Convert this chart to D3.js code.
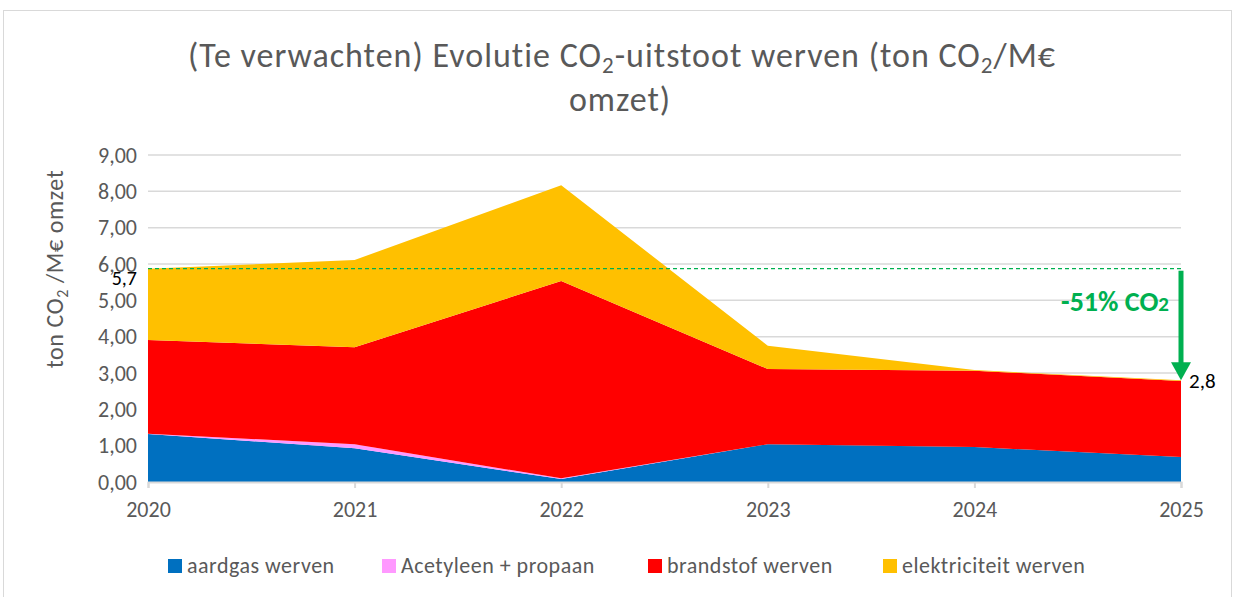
<!DOCTYPE html>
<html>
<head>
<meta charset="utf-8">
<script src="https://cdn.jsdelivr.net/npm/d3@7"></script>
<style>
  html, body { margin: 0; padding: 0; background: #fff; }
  svg { display: block; }
  text { font-family: Carlito, Lato, "Liberation Sans", sans-serif; }
</style>
</head>
<body>
<svg id="chart" width="1235" height="597"></svg>
<script>
const years = ["2020", "2021", "2022", "2023", "2024", "2025"];
const seriesNames = ["aardgas werven", "Acetyleen + propaan", "brandstof werven", "elektriciteit werven"];
const aardgas = [1.32, 0.93, 0.08, 1.04, 0.96, 0.69];
const acetyleen = [0.01, 0.11, 0.02, 0.0, 0.0, 0.0];
const brandstof = [2.58, 2.67, 5.43, 2.07, 2.10, 2.09];
const elektriciteit = [1.96, 2.40, 2.64, 0.64, 0.02, 0.02];
const colors = ["#0070c0", "#ff99ff", "#ff0000", "#ffc000"];
const yTicks = [0, 1, 2, 3, 4, 5, 6, 7, 8, 9];
const startLabel = "5,7";
const endLabel = "2,8";
const reductionLabel = "-51% CO";

const svg = d3.select("#chart");

// outer border
svg.append("rect").attr("x", 3.5).attr("y", 10.5).attr("width", 1228).attr("height", 600)
  .attr("fill", "#fff").attr("stroke", "#d9d9d9").attr("stroke-width", 1);

const x = d3.scalePoint().domain(years).range([148, 1181]);
const y = d3.scaleLinear().domain([0, 9]).range([482, 155]);

const rows = years.map((yr, i) => ({
  year: yr,
  "aardgas werven": aardgas[i],
  "Acetyleen + propaan": acetyleen[i],
  "brandstof werven": brandstof[i],
  "elektriciteit werven": elektriciteit[i]
}));
const stacked = d3.stack().keys(seriesNames)(rows);

// gridlines
svg.append("g").selectAll("line").data(yTicks.filter(t => t > 0)).join("line")
  .attr("x1", 148).attr("x2", 1181)
  .attr("y1", d => y(d)).attr("y2", d => y(d))
  .attr("stroke", "#d9d9d9").attr("stroke-width", 1.5);

// areas
const area = d3.area()
  .x((d, i) => x(years[i]))
  .y0(d => y(d[0]))
  .y1(d => y(d[1]));
svg.append("g").selectAll("path").data(stacked).join("path")
  .attr("d", area)
  .attr("fill", (d, i) => colors[i]);

// x axis
const xAxis = d3.axisBottom(x).tickSize(6).tickPadding(13);
const gx = svg.append("g").attr("transform", "translate(0,482)").call(xAxis);
gx.select(".domain").attr("stroke", "#d9d9d9").attr("stroke-width", 2);
gx.selectAll(".tick line").attr("stroke", "#d9d9d9").attr("stroke-width", 2);
gx.selectAll(".tick text").attr("fill", "#595959").attr("font-size", 22)
  .style("font-family", "Carlito, Lato, sans-serif");

// y axis
const yAxis = d3.axisLeft(y).tickValues(yTicks).tickSize(0).tickPadding(11)
  .tickFormat(d => d3.format(".2f")(d).replace(".", ","));
const gy = svg.append("g").attr("transform", "translate(148,0)").call(yAxis);
gy.select(".domain").remove();
gy.selectAll(".tick text").attr("fill", "#595959").attr("font-size", 22)
  .style("font-family", "Carlito, Lato, sans-serif");

// totals
const total = i => aardgas[i] + acetyleen[i] + brandstof[i] + elektriciteit[i];
const t0 = total(0), t5 = total(years.length - 1);
const green = "#00b050";

// dashed reference line
svg.append("line")
  .attr("x1", x(years[0])).attr("x2", x(years[years.length - 1]))
  .attr("y1", y(t0)).attr("y2", y(t0))
  .attr("stroke", green).attr("stroke-width", 1.2).attr("stroke-dasharray", "4,3");

// arrow
const ax = x(years[years.length - 1]);
svg.append("line")
  .attr("x1", ax).attr("x2", ax)
  .attr("y1", y(t0) + 2).attr("y2", y(t5) - 16)
  .attr("stroke", green).attr("stroke-width", 5);
svg.append("path")
  .attr("d", `M${ax - 10},${y(t5) - 18} L${ax + 10},${y(t5) - 18} L${ax},${y(t5)} Z`)
  .attr("fill", green);

// reduction label
const red = svg.append("text").attr("x", 1169).attr("y", 311)
  .attr("text-anchor", "end").attr("fill", green).attr("font-size", 28).attr("font-weight", "bold");
red.append("tspan").text(reductionLabel);
red.append("tspan").attr("font-size", 21).text("2");

// point labels
svg.append("text").attr("x", 137).attr("y", 285).attr("text-anchor", "end")
  .attr("fill", "#000").attr("font-size", 20).text(startLabel);
svg.append("text").attr("x", 1189).attr("y", y(t5) + 8).attr("text-anchor", "start")
  .attr("fill", "#000").attr("font-size", 21).text(endLabel);

// y-axis title
const yt = svg.append("text").attr("transform", "translate(63,269) rotate(-90)")
  .attr("text-anchor", "middle").attr("fill", "#595959").attr("font-size", 24)
  .attr("letter-spacing", 0.6);
yt.append("tspan").text("ton CO");
yt.append("tspan").attr("font-size", 16).attr("dy", 5).text("2");
yt.append("tspan").attr("dy", -5).text(" /M€ omzet");

// chart title
const title = svg.append("text").attr("x", 622).attr("y", 67).attr("text-anchor", "middle")
  .attr("fill", "#595959").attr("font-size", 34).attr("letter-spacing", 1);
title.append("tspan").text("(Te verwachten) Evolutie CO");
title.append("tspan").attr("font-size", 23).attr("dy", 6).text("2");
title.append("tspan").attr("dy", -6).text("-uitstoot werven (ton CO");
title.append("tspan").attr("font-size", 23).attr("dy", 6).text("2");
title.append("tspan").attr("dy", -6).text("/M€");
svg.append("text").attr("x", 620).attr("y", 111).attr("text-anchor", "middle")
  .attr("fill", "#595959").attr("font-size", 34).attr("letter-spacing", 1).text("omzet)");

// legend
const legendX = [168, 382, 648, 883];
const lg = svg.append("g").selectAll("g").data(seriesNames).join("g")
  .attr("transform", (d, i) => `translate(${legendX[i]},566)`);
lg.append("rect").attr("x", 0).attr("y", -7).attr("width", 14).attr("height", 14)
  .attr("fill", (d, i) => colors[i]);
lg.append("text").attr("x", 19).attr("y", 7).attr("fill", "#595959").attr("font-size", 22)
  .attr("letter-spacing", 0.5).text(d => d);
</script>
</body>
</html>
